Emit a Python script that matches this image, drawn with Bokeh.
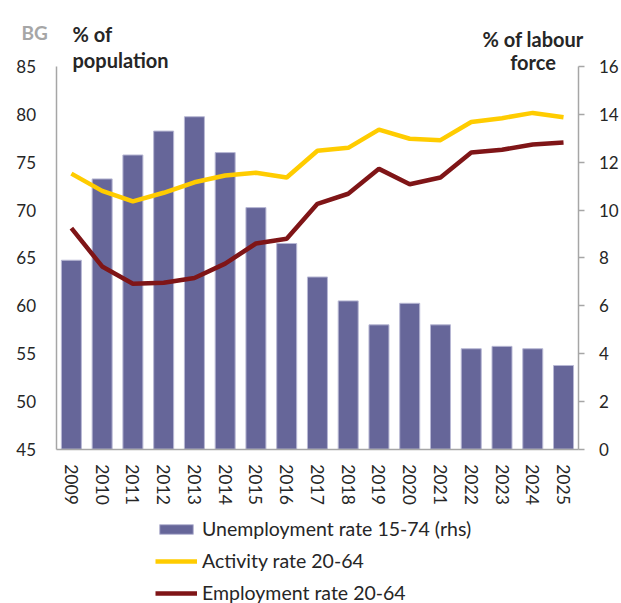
from bokeh.plotting import figure
from bokeh.models import (Range1d, LinearAxis, FixedTicker, Legend, LegendItem, Label,
                          ColumnDataSource)
from bokeh.embed import file_html
from bokeh.resources import INLINE

years = [2009, 2010, 2011, 2012, 2013, 2014, 2015, 2016, 2017,
         2018, 2019, 2020, 2021, 2022, 2023, 2024, 2025]
unemployment = [7.9, 11.3, 12.3, 13.3, 13.9, 12.4, 10.1, 8.6, 7.2,
                6.2, 5.2, 6.1, 5.2, 4.2, 4.3, 4.2, 3.5]
activity = [73.8, 72.0, 70.9, 71.8, 72.9, 73.6, 73.9, 73.4, 76.2,
            76.5, 78.4, 77.45, 77.3, 79.2, 79.6, 80.15, 79.7]
employment = [68.1, 64.1, 62.3, 62.4, 62.9, 64.4, 66.5, 67.0, 70.65,
              71.7, 74.3, 72.7, 73.4, 76.0, 76.3, 76.85, 77.05]
left_ticks = [45, 50, 55, 60, 65, 70, 75, 80, 85]
right_ticks = [0, 2, 4, 6, 8, 10, 12, 14, 16]
series_names = ["Unemployment rate 15-74 (rhs)", "Activity rate 20-64", "Employment rate 20-64"]

FONT = "Lato"
TXT = "#262626"
AX = "#a6a6a6"
W, H = 621, 603

# plot-area geometry in page pixels (frame spans the whole canvas, axes are pinned)
PL, PR, PT, PB = 55.5, 578.4, 66.0, 448.7
ncat = len(years)
xpx = (PR - PL) / ncat
x0 = years[0] - 0.5 - PL / xpx
x1 = years[-1] + 0.5 + (W - PR) / xpx
lmin, lmax = left_ticks[0], left_ticks[-1]
rmin, rmax = right_ticks[0], right_ticks[-1]
lpx = (PB - PT) / (lmax - lmin)
rpx = (PB - PT) / (rmax - rmin)
y0 = lmin - (H - PB) / lpx
y1 = lmax + PT / lpx
r0 = rmin - (H - PB) / rpx
r1 = rmax + PT / rpx

src = ColumnDataSource(dict(year=years, unemp=unemployment, act=activity, emp=employment))

p = figure(width=W, height=H, x_range=Range1d(x0, x1), y_range=Range1d(y0, y1),
           output_backend="svg", toolbar_location=None, x_axis_type=None, y_axis_type=None,
           min_border=0, min_border_left=0, min_border_right=0, min_border_top=0,
           min_border_bottom=0)
p.extra_y_ranges = {"rhs": Range1d(r0, r1)}
p.outline_line_color = None
p.xgrid.grid_line_color = None
p.ygrid.grid_line_color = None

bars = p.vbar(x="year", top="unemp", bottom=0, width=0.65, source=src, y_range_name="rhs",
              fill_color="#666699", line_color="#b8b8d4", line_width=1)
act = p.line(x="year", y="act", source=src, line_color="#FFCC00", line_width=4.5)
emp = p.line(x="year", y="emp", source=src, line_color="#7f1517", line_width=4.5)

def style(ax, size="17px"):
    ax.minor_tick_out = 0
    ax.minor_tick_in = 0
    ax.major_tick_in = 0
    ax.axis_line_color = AX
    ax.axis_line_width = 1.5
    ax.major_tick_line_color = AX
    ax.major_tick_line_width = 1.5
    ax.major_label_text_font = FONT
    ax.major_label_text_font_size = size
    ax.major_label_text_color = TXT

la = LinearAxis(ticker=FixedTicker(ticks=left_ticks), bounds=(lmin, lmax),
                fixed_location=years[0] - 0.5)
style(la)
la.major_tick_out = 0
la.major_label_standoff = 20
p.add_layout(la, "left")

ra = LinearAxis(y_range_name="rhs", ticker=FixedTicker(ticks=right_ticks), bounds=(rmin, rmax),
                fixed_location=years[-1] + 0.5)
style(ra)
ra.major_tick_out = 6
ra.major_label_standoff = 14
p.add_layout(ra, "right")

xa = LinearAxis(ticker=FixedTicker(ticks=years), bounds=(years[0] - 0.5, years[-1] + 0.5),
                fixed_location=lmin)
style(xa, "17.5px")
xa.major_tick_out = 0
xa.major_label_orientation = "vertical"
xa.major_label_standoff = 15
p.add_layout(xa, "below")

legend = Legend(items=[LegendItem(label=series_names[0], renderers=[bars]),
                       LegendItem(label=series_names[1], renderers=[act]),
                       LegendItem(label=series_names[2], renderers=[emp])],
                location=(155, -1), orientation="vertical",
                glyph_width=42, glyph_height=12, label_height=20, spacing=9,
                padding=0, margin=0, label_standoff=5,
                border_line_alpha=0, background_fill_alpha=0,
                label_text_font=FONT, label_text_font_size="19.5px", label_text_color=TXT)
p.add_layout(legend, "center")

def lab(text, x, y, align="left", color=TXT, size="20px"):
    # x, y given as page pixels from the top-left corner
    p.add_layout(Label(text=text, x=x, y=H - y, x_units="screen", y_units="screen",
                       text_align=align, text_baseline="alphabetic", text_font=FONT,
                       text_font_style="bold", text_font_size=size, text_color=color))

lab("BG", 21, 32, color="#a6a6a6", size="19px")
lab("% of", 72, 33)
lab("population", 72, 59)
lab("% of labour", 532.5, 38, align="center")
lab("force", 532.5, 61, align="center")

open("out.html", "w").write(file_html(p, INLINE))
